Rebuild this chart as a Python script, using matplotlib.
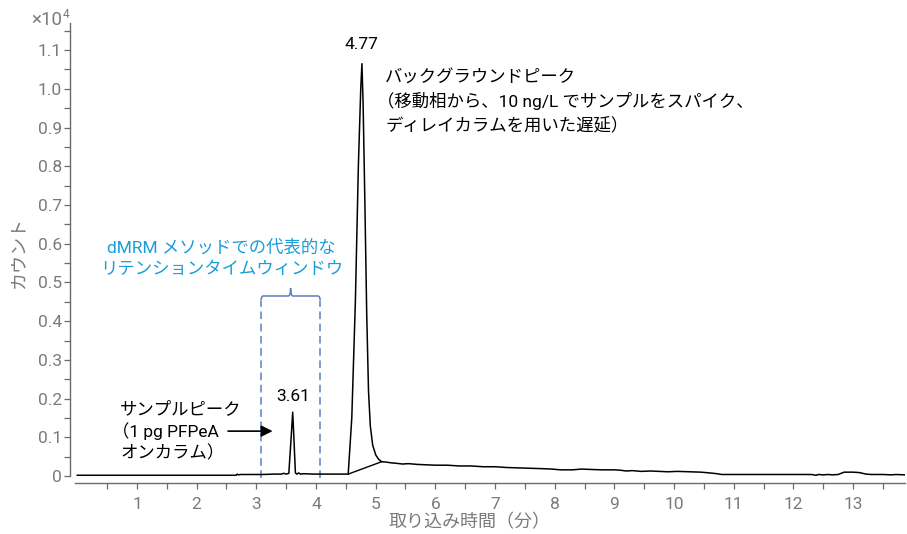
"""PFPeA chromatogram: sample peak vs. background peak from the delay column."""
import numpy as np
import matplotlib
matplotlib.use("Agg")
import matplotlib.pyplot as plt
from matplotlib.path import Path
from matplotlib.patches import PathPatch
from matplotlib.transforms import offset_copy

plt.rcParams["font.family"] = ["Roboto", "Noto Sans CJK JP", "DejaVu Sans"]

# acquisition time (min) and counts (x10^4)
time_min = [0.00, 0.50, 1.00, 1.50, 2.00, 2.50, 2.66, 2.68, 2.70, 2.74, 2.90, 3.10,
            3.30, 3.42, 3.46, 3.50, 3.545, 3.58, 3.61, 3.635, 3.655, 3.68, 3.71,
            3.74, 3.80, 3.95, 4.10, 4.30, 4.54, 4.60, 4.66, 4.71, 4.75, 4.77,
            4.79, 4.82, 4.85, 4.88, 4.91, 4.95, 5.00, 5.05, 5.10, 5.18, 5.26,
            5.34, 5.45, 5.55, 5.70, 5.85, 6.00, 6.20, 6.40, 6.60, 6.80, 7.00,
            7.20, 7.40, 7.60, 7.80, 7.95, 8.10, 8.30, 8.45, 8.60, 8.80, 9.00,
            9.10, 9.20, 9.30, 9.45, 9.60, 9.75, 9.90, 10.05, 10.26, 10.45,
            10.60, 10.72, 10.80, 11.20, 11.60, 12.00, 12.30, 12.38, 12.42,
            12.50, 12.58, 12.65, 12.75, 12.85, 13.00, 13.10, 13.22, 13.30,
            13.50, 13.65, 13.72, 13.87]
counts = [0.002, 0.002, 0.002, 0.002, 0.002, 0.002, 0.002, 0.005, 0.003, 0.004, 0.004, 0.004,
          0.005, 0.005, 0.007, 0.005, 0.007, 0.090, 0.165, 0.080, 0.008, 0.005, 0.008,
          0.005, 0.006, 0.005, 0.005, 0.005, 0.005, 0.150, 0.450, 0.800, 1.000, 1.065,
          0.960, 0.700, 0.420, 0.220, 0.130, 0.080, 0.055, 0.043, 0.037, 0.036, 0.034,
          0.033, 0.031, 0.032, 0.030, 0.029, 0.028, 0.028, 0.026, 0.026, 0.024, 0.024,
          0.022, 0.021, 0.020, 0.019, 0.018, 0.016, 0.016, 0.018, 0.017, 0.016, 0.016,
          0.015, 0.013, 0.014, 0.012, 0.013, 0.012, 0.011, 0.012, 0.011, 0.010,
          0.008, 0.006, 0.004, 0.004, 0.004, 0.004, 0.004, 0.002, 0.004,
          0.003, 0.004, 0.003, 0.004, 0.010, 0.010, 0.009, 0.005, 0.004,
          0.004, 0.003, 0.004, 0.003]

# integration baseline under the background peak
baseline_t = [4.54, 5.10]
baseline_v = [0.005, 0.037]

# dMRM retention-time window (min)
window = [3.08, 4.07]

peak_sample = (3.61, 0.165)
peak_background = (4.77, 1.065)

GRAY = "#7a7a7a"
AXIS = "#6b6b6b"
BLUE = "#1b9ddb"
BRACE = "#5b7fc0"
FS = 12.5

fig = plt.figure(figsize=(9.07, 5.34), dpi=100)
ax = fig.add_axes([0.0819, 0.0955, 0.9159, 0.8614])

ax.plot(time_min, counts, color="black", lw=1.1, zorder=3)
ax.plot(baseline_t, baseline_v, color="black", lw=1.0, zorder=3)

ax.set_xlim(-0.05, 13.87)
ax.set_ylim(-0.018, 1.17)

ax.set_xticks(np.arange(1, 14))
ax.set_xticks(np.arange(0.5, 14.0, 1.0), minor=True)
ax.set_yticks(np.arange(0, 1.15, 0.1))
ax.set_yticks(np.arange(0.05, 1.2, 0.1), minor=True)
ax.set_yticklabels(["0"] + [f"{v:.1f}" for v in np.arange(0.1, 1.15, 0.1)])

for side in ("top", "right"):
    ax.spines[side].set_visible(False)
for side in ("left", "bottom"):
    ax.spines[side].set_color(AXIS)
    ax.spines[side].set_linewidth(1.0)
ax.spines["left"].set_position(("outward", 3))
ax.spines["left"].set_bounds(0, 1.17)
ax.spines["bottom"].set_bounds(-0.04, 13.87)

ax.tick_params(axis="both", which="both", direction="out", color=AXIS,
               labelcolor=GRAY, labelsize=FS, width=0.9)
ax.tick_params(axis="x", which="both", length=4, pad=6)
ax.tick_params(axis="y", which="both", length=4, pad=2)

fig.text(470 / 907, 1 - 522 / 534, "取り込み時間（分）", color=GRAY, fontsize=13,
         ha="center", va="center")
ax.set_ylabel("カウント", color=GRAY, fontsize=13, labelpad=7)

# x10^4 multiplier above the y axis
fig.text(62 / 907, 1 - 20 / 534, "×10", color=GRAY, fontsize=13.5,
         ha="right", va="center")
fig.text(63 / 907, 1 - 14 / 534, "4", color=GRAY, fontsize=8.5,
         ha="left", va="center")

# peak labels
ax.text(peak_sample[0], peak_sample[1] + 0.022, f"{peak_sample[0]:.2f}",
        ha="center", va="bottom", fontsize=FS, color="black")
ax.text(peak_background[0], peak_background[1] + 0.03, f"{peak_background[0]:.2f}",
        ha="center", va="bottom", fontsize=FS, color="black")


def text_block(x, y, lines, step, color="black"):
    """Left-aligned lines; an opening full-width bracket hangs into the margin."""
    for i, line in enumerate(lines):
        dx = -8 if line.startswith("（") else 0
        tr = offset_copy(ax.transData, fig=fig, x=dx, y=-i * step, units="dots")
        ax.text(x, y, line, transform=tr, ha="left", va="center",
                fontsize=FS, color=color)


text_block(0.72, 0.173, ["サンプルピーク", "（1 pg PFPeA", "オンカラム）"], 22)
ax.annotate("", xy=(3.32, 0.116), xytext=(2.48, 0.116),
            arrowprops=dict(arrowstyle="-|>", color="black", lw=1.2,
                            mutation_scale=17))

text_block(5.16, 1.03, ["バックグラウンドピーク",
                        "（移動相から、10 ng/L でサンプルをスパイク、",
                        "ディレイカラムを用いた遅延）"], 24)

ax.text(2.42, 0.563, "dMRM メソッドでの代表的な\nリテンションタイムウィンドウ",
        ha="center", va="center", fontsize=FS, color=BLUE, linespacing=1.45)

# dashed window limits capped with a curly brace
w0, w1 = window
top, cusp = 0.465, 0.485
mid = 0.5 * (w0 + w1)
for wx in window:
    ax.plot([wx, wx], [-0.005, top - 0.012], color=BRACE, lw=1.1,
            ls=(0, (5, 3)), zorder=2)
brace = Path(
    [(w0, top - 0.012), (w0, top), (w0 + 0.04, top),
     (mid - 0.04, top), (mid, top), (mid, cusp),
     (mid, top), (mid + 0.04, top),
     (w1 - 0.04, top), (w1, top), (w1, top - 0.012)],
    [Path.MOVETO, Path.CURVE3, Path.CURVE3,
     Path.LINETO, Path.CURVE3, Path.CURVE3,
     Path.CURVE3, Path.CURVE3,
     Path.LINETO, Path.CURVE3, Path.CURVE3])
ax.add_patch(PathPatch(brace, fill=False, edgecolor=BRACE, lw=1.1, zorder=2))

fig.savefig("out.png", dpi=100)
